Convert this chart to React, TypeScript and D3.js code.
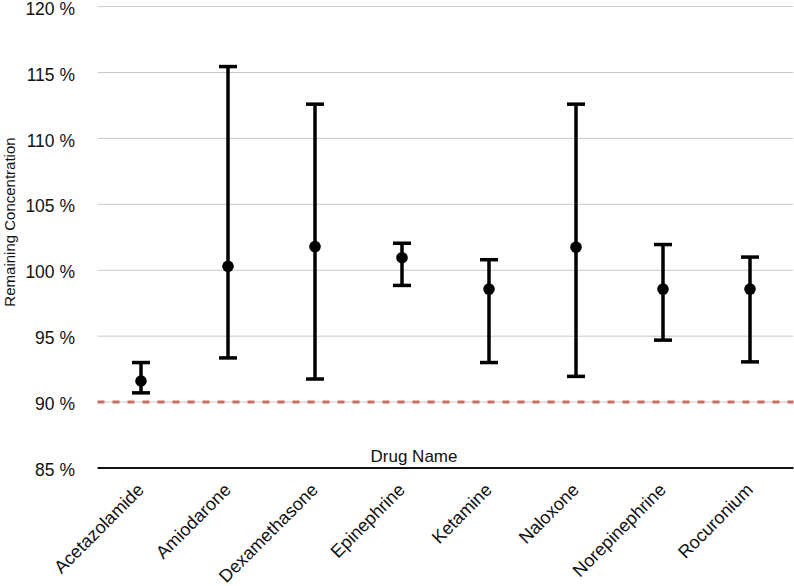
import React from "react";
import * as d3 from "d3";

// Drug stability: mean remaining concentration with min/max range
const drugs = [
  "Acetazolamide",
  "Amiodarone",
  "Dexamethasone",
  "Epinephrine",
  "Ketamine",
  "Naloxone",
  "Norepinephrine",
  "Rocuronium",
];
const meanValues = [91.6, 100.3, 101.8, 100.95, 98.57, 101.75, 98.57, 98.57];
const lowValues = [90.7, 93.35, 91.75, 98.85, 93.0, 91.95, 94.7, 93.05];
const highValues = [93.0, 115.45, 112.6, 102.05, 100.8, 112.6, 101.95, 101.0];
const yTicks = [85, 90, 95, 100, 105, 110, 115, 120];
const thresholdValue = 90;

const W = 794;
const H = 586;
const FONT = "'Liberation Sans', Arial, Helvetica, sans-serif";

export default function App() {
  const x = d3.scaleBand<string>().domain(drugs).range([97.5, 793.5]).padding(0);
  const y = d3.scaleLinear().domain([85, 120]).range([468, 6.6]);
  const cx = (d: string) => (x(d) as number) + x.bandwidth() / 2;
  const capHalf = 9;

  const rows = drugs.map((d, i) => ({
    name: d,
    mean: meanValues[i],
    low: lowValues[i],
    high: highValues[i],
  }));

  const [x0, x1] = x.range();

  return (
    <svg
      width={W}
      height={H}
      style={{ position: "absolute", left: 0, top: 0, background: "#fff" }}
      fontFamily={FONT}
    >
      {/* horizontal gridlines */}
      {yTicks
        .filter((t) => t !== 85)
        .map((t) => (
          <line
            key={`g${t}`}
            x1={x0}
            x2={x1}
            y1={y(t)}
            y2={y(t)}
            stroke="#c8c8c8"
            strokeWidth={1}
          />
        ))}

      {/* y tick labels */}
      {yTicks.map((t) => (
        <text
          key={`t${t}`}
          x={75}
          y={y(t) + 2}
          dy="0.35em"
          textAnchor="end"
          fontSize={17.5}
          fill="#111"
        >
          {`${t} %`}
        </text>
      ))}

      {/* threshold line */}
      <line
        x1={x0}
        x2={x1}
        y1={y(thresholdValue)}
        y2={y(thresholdValue)}
        stroke="#c96f5f"
        strokeWidth={3}
        strokeDasharray="7 8"
      />

      {/* bottom axis line */}
      <line x1={x0} x2={x1} y1={y(85)} y2={y(85)} stroke="#111" strokeWidth={2} />

      {/* x axis title */}
      <text x={414} y={462} textAnchor="middle" fontSize={17} fill="#111">
        Drug Name
      </text>

      {/* y axis title */}
      <text
        transform={`translate(15, 222) rotate(-90)`}
        textAnchor="middle"
        fontSize={15}
        fill="#111"
      >
        Remaining Concentration
      </text>

      {/* error bars with mean markers */}
      {rows.map((r) => {
        const px = cx(r.name);
        return (
          <g key={r.name}>
            <line
              x1={px}
              x2={px}
              y1={y(r.high)}
              y2={y(r.low)}
              stroke="#000"
              strokeWidth={3.5}
            />
            <line
              x1={px - capHalf}
              x2={px + capHalf}
              y1={y(r.high)}
              y2={y(r.high)}
              stroke="#000"
              strokeWidth={3.5}
            />
            <line
              x1={px - capHalf}
              x2={px + capHalf}
              y1={y(r.low)}
              y2={y(r.low)}
              stroke="#000"
              strokeWidth={3.5}
            />
            <circle cx={px} cy={y(r.mean)} r={5.8} fill="#000" />
          </g>
        );
      })}

      {/* category labels */}
      {drugs.map((d) => (
        <text
          key={`c${d}`}
          transform={`translate(${cx(d) + 4}, 491) rotate(-45)`}
          textAnchor="end"
          fontSize={18}
          fill="#111"
        >
          {d}
        </text>
      ))}
    </svg>
  );
}
